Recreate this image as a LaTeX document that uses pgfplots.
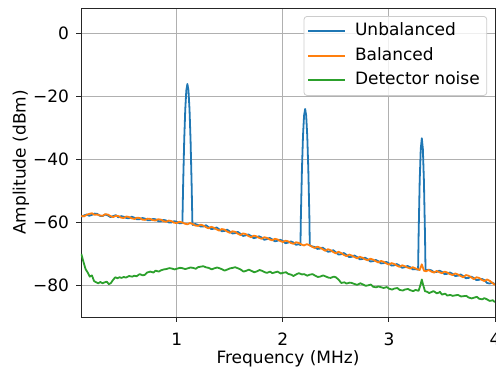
\documentclass[border=0pt]{standalone}
\usepackage{fontspec}
\setmainfont{DejaVu Sans}
\usepackage{pgfplots}
\pgfplotsset{compat=1.18}
\definecolor{C0}{HTML}{1F77B4}
\definecolor{C1}{HTML}{FF7F0E}
\definecolor{C2}{HTML}{2CA02C}
\definecolor{gridgray}{HTML}{B0B0B0}
\definecolor{leggray}{HTML}{CCCCCC}
\newcommand\fs{\fontsize{17}{20}\selectfont}
\begin{document}
\begin{tikzpicture}
\useasboundingbox (-81pt,-53pt) rectangle (415pt,317pt);
\begin{axis}[
  at={(0,0)}, anchor=south west,
  width=414pt, height=309pt, scale only axis,
  xmin=0.097, xmax=4, ymin=-90, ymax=8,
  xtick={1,2,3,4}, xticklabels={1,2,3,4},
  ytick={-80,-60,-40,-20,0}, yticklabels={−80,−60,−40,−20,0},
  tick pos=left,
  grid=major, major grid style={draw=gridgray, line width=0.9pt},
  axis line style={line width=0.9pt, draw=black!85},
  tick align=outside, major tick length=4.5pt,
  tick style={draw=black!85, line width=0.9pt},
  every tick label/.append style={font=\fs},
  xticklabel style={yshift=-8pt},
  yticklabel style={xshift=-4pt},
  label style={font=\fs},
  xlabel={Frequency (MHz)}, ylabel={Amplitude (dBm)},
  xlabel style={yshift=2pt},
  ylabel style={yshift=-3pt},
  legend cell align=left,
  legend style={at={(0.981,0.974)}, anchor=north east, draw=leggray, line width=0.8pt,
    rounded corners=3pt, fill=white, fill opacity=0.8, text opacity=1,
    font=\fs, inner xsep=3pt, inner ysep=3pt, row sep=0.5pt, column sep=5pt,
    nodes={inner sep=4pt, text height=12.5pt, text depth=3.5pt}},
  legend image code/.code={\draw[line width=2pt,#1] (0pt,0pt) -- (37pt,0pt);},
]
\addplot[C0, line width=1.8pt, line join=round] table {
0.10 -58.2
0.125 -57.8
0.15 -57.5
0.175 -57.9
0.20 -57.6
0.225 -57.2
0.25 -57.3
0.275 -57.9
0.30 -58.0
0.325 -57.5
0.35 -57.8
0.375 -58.3
0.40 -58.0
0.425 -57.7
0.45 -58.4
0.475 -58.0
0.50 -58.2
0.525 -58.6
0.55 -58.7
0.575 -58.2
0.60 -58.5
0.625 -59.0
0.65 -59.0
0.675 -58.6
0.70 -58.8
0.725 -59.3
0.75 -59.3
0.775 -58.9
0.80 -59.0
0.825 -59.6
0.85 -59.6
0.875 -59.2
0.90 -59.4
0.925 -60.0
0.95 -60.0
0.975 -59.6
1.00 -59.8
1.025 -60.3
1.05 -60.2
1.053 -60.0
1.06 -48.0
1.07 -34.0
1.08 -24.1
1.09 -18.1
1.10 -16.1
1.11 -18.1
1.12 -24.1
1.13 -34.0
1.14 -48.0
1.147 -59.8
1.15 -60.8
1.175 -60.5
1.20 -60.8
1.225 -61.3
1.25 -61.3
1.275 -60.9
1.30 -61.5
1.325 -62.1
1.35 -62.0
1.375 -61.6
1.40 -62.2
1.425 -62.8
1.45 -62.7
1.475 -62.3
1.50 -62.9
1.525 -63.5
1.55 -63.4
1.575 -63.0
1.60 -63.6
1.625 -64.3
1.65 -64.1
1.675 -63.8
1.70 -64.3
1.725 -65.0
1.75 -64.8
1.775 -64.4
1.80 -64.8
1.825 -65.5
1.85 -65.3
1.875 -64.9
1.90 -65.4
1.925 -66.0
1.95 -65.8
1.975 -65.5
2.00 -65.9
2.025 -66.6
2.05 -66.4
2.075 -66.0
2.10 -66.4
2.125 -67.1
2.15 -66.9
2.166 -67.2
2.17 -58.1
2.18 -43.2
2.19 -32.5
2.20 -26.1
2.21 -24.0
2.22 -26.1
2.23 -32.5
2.24 -43.2
2.25 -58.1
2.254 -67.3
2.275 -67.6
2.30 -67.8
2.325 -68.4
2.35 -68.3
2.375 -68.0
2.40 -68.6
2.425 -69.3
2.45 -69.2
2.475 -68.8
2.50 -69.5
2.525 -70.2
2.55 -70.1
2.575 -69.7
2.60 -70.3
2.625 -71.0
2.65 -70.9
2.675 -70.5
2.70 -71.0
2.725 -71.7
2.75 -71.6
2.775 -71.2
2.80 -71.7
2.825 -72.4
2.85 -72.3
2.875 -71.9
2.90 -72.3
2.925 -73.0
2.95 -72.9
2.975 -72.5
3.00 -73.0
3.025 -73.7
3.05 -73.6
3.075 -73.2
3.10 -73.7
3.125 -74.4
3.15 -74.2
3.175 -73.8
3.20 -74.2
3.225 -74.9
3.25 -74.8
3.275 -75.0
3.28 -63.9
3.29 -46.9
3.30 -36.7
3.31 -33.3
3.32 -36.7
3.33 -46.9
3.34 -63.9
3.345 -75.2
3.375 -75.0
3.40 -75.2
3.425 -75.8
3.45 -75.7
3.475 -75.3
3.50 -75.7
3.525 -76.4
3.55 -76.3
3.575 -75.9
3.60 -76.3
3.625 -77.0
3.65 -76.9
3.675 -76.5
3.70 -77.0
3.725 -77.7
3.75 -77.6
3.775 -77.2
3.80 -77.6
3.825 -78.3
3.85 -78.2
3.875 -77.9
3.90 -78.3
3.925 -79.2
3.95 -79.4
3.975 -79.1
4.00 -79.6
};
\addlegendentry{Unbalanced}
\addplot[C1, line width=1.8pt, line join=round] table {
0.10 -57.9
0.125 -58.1
0.15 -57.6
0.175 -57.3
0.20 -57.1
0.225 -57.6
0.25 -57.5
0.275 -57.8
0.30 -57.9
0.325 -57.4
0.35 -57.5
0.375 -58.0
0.40 -58.3
0.425 -57.9
0.45 -58.0
0.475 -58.5
0.50 -58.6
0.525 -58.1
0.55 -58.3
0.575 -58.7
0.60 -58.9
0.625 -58.5
0.65 -58.6
0.675 -59.1
0.70 -59.2
0.725 -58.8
0.75 -58.9
0.775 -59.3
0.80 -59.4
0.825 -59.0
0.85 -59.1
0.875 -59.6
0.90 -59.8
0.925 -59.4
0.95 -59.6
0.975 -60.1
1.00 -60.2
1.025 -59.8
1.05 -60.0
1.075 -60.4
1.10 -60.6
1.125 -60.2
1.15 -60.5
1.175 -61.0
1.20 -61.1
1.225 -60.7
1.25 -61.0
1.275 -61.5
1.30 -61.9
1.325 -61.4
1.35 -61.7
1.375 -62.2
1.40 -62.6
1.425 -62.1
1.45 -62.3
1.475 -62.9
1.50 -63.3
1.525 -62.8
1.55 -63.0
1.575 -63.6
1.60 -64.0
1.625 -63.5
1.65 -63.7
1.675 -64.3
1.70 -64.7
1.725 -64.2
1.75 -64.4
1.775 -64.9
1.80 -65.2
1.825 -64.7
1.85 -64.9
1.875 -65.4
1.90 -65.7
1.925 -65.2
1.95 -65.4
1.975 -65.9
2.00 -66.2
2.025 -65.8
2.05 -66.0
2.075 -66.5
2.10 -66.8
2.125 -66.3
2.15 -66.5
2.175 -67.0
2.20 -67.3
2.225 -66.9
2.25 -67.2
2.275 -67.7
2.30 -68.1
2.325 -67.7
2.35 -68.0
2.375 -68.5
2.40 -69.0
2.425 -68.5
2.45 -68.8
2.475 -69.4
2.50 -69.8
2.525 -69.3
2.55 -69.7
2.575 -70.3
2.60 -70.7
2.625 -70.2
2.65 -70.5
2.675 -71.0
2.70 -71.4
2.725 -70.9
2.75 -71.2
2.775 -71.7
2.80 -72.0
2.825 -71.5
2.85 -71.8
2.875 -72.3
2.90 -72.7
2.925 -72.2
2.95 -72.5
2.975 -73.0
3.00 -73.4
3.025 -72.9
3.05 -73.2
3.075 -73.7
3.10 -74.1
3.125 -73.6
3.15 -73.9
3.175 -74.3
3.20 -74.6
3.225 -74.2
3.25 -74.6
3.275 -74.9
3.29 -75.1
3.31 -73.3
3.33 -75.3
3.35 -75.5
3.375 -75.1
3.40 -75.6
3.425 -75.9
3.45 -75.4
3.475 -75.8
3.50 -76.1
3.525 -75.6
3.55 -75.9
3.575 -76.4
3.60 -76.7
3.625 -76.2
3.65 -76.5
3.675 -77.0
3.70 -77.4
3.725 -76.7
3.75 -76.9
3.775 -77.4
3.80 -78.0
3.825 -77.4
3.85 -77.6
3.875 -78.2
3.90 -78.6
3.925 -78.1
3.95 -78.5
3.975 -79.2
4.00 -79.8
};
\addlegendentry{Balanced}
\addplot[C2, line width=1.8pt, line join=round] table {
0.10 -70.0
0.12 -72.5
0.14 -74.8
0.16 -75.9
0.18 -77.2
0.20 -76.8
0.22 -78.6
0.24 -79.0
0.26 -79.3
0.28 -78.9
0.30 -79.3
0.32 -79.0
0.34 -78.8
0.36 -79.6
0.38 -79.2
0.40 -78.2
0.42 -77.4
0.44 -77.7
0.46 -77.4
0.48 -77.6
0.50 -77.3
0.52 -77.5
0.55 -77.0
0.58 -77.2
0.60 -76.9
0.62 -77.1
0.65 -76.4
0.68 -76.8
0.70 -76.6
0.72 -75.9
0.75 -75.6
0.78 -75.9
0.80 -75.3
0.83 -75.6
0.85 -75.2
0.88 -74.9
0.90 -74.8
0.93 -74.5
0.95 -74.6
0.98 -74.9
1.00 -74.7
1.03 -74.4
1.05 -74.5
1.08 -74.8
1.10 -74.6
1.13 -74.3
1.15 -74.4
1.18 -74.7
1.20 -74.2
1.23 -74.0
1.25 -73.9
1.28 -74.3
1.30 -74.4
1.33 -74.9
1.35 -74.6
1.38 -74.3
1.40 -74.5
1.43 -74.9
1.45 -75.3
1.48 -74.9
1.50 -74.6
1.53 -74.4
1.55 -74.2
1.58 -74.6
1.60 -74.9
1.63 -75.6
1.65 -75.4
1.68 -75.0
1.70 -75.3
1.73 -75.8
1.75 -75.6
1.78 -75.1
1.80 -75.3
1.83 -75.8
1.85 -76.0
1.88 -75.6
1.90 -76.1
1.93 -75.8
1.95 -75.6
1.98 -76.2
2.00 -76.0
2.03 -75.8
2.05 -76.3
2.08 -76.6
2.10 -77.0
2.13 -76.4
2.15 -76.1
2.18 -76.5
2.20 -76.4
2.23 -76.9
2.25 -76.6
2.28 -76.4
2.30 -76.8
2.33 -77.3
2.35 -77.2
2.38 -76.8
2.40 -77.1
2.43 -77.5
2.45 -77.6
2.48 -77.2
2.50 -77.4
2.53 -78.3
2.55 -79.2
2.58 -79.0
2.60 -79.4
2.63 -79.1
2.65 -79.2
2.68 -79.6
2.70 -79.8
2.73 -79.3
2.75 -79.6
2.78 -80.1
2.80 -80.0
2.83 -79.7
2.85 -80.4
2.88 -80.6
2.90 -80.3
2.93 -80.6
2.95 -80.8
2.98 -80.5
3.00 -81.0
3.03 -81.3
3.05 -81.0
3.08 -80.8
3.10 -81.4
3.13 -81.6
3.15 -81.3
3.18 -81.1
3.20 -81.5
3.23 -81.8
3.25 -81.4
3.28 -81.7
3.30 -79.5
3.31 -78.1
3.32 -79.5
3.34 -81.8
3.36 -82.0
3.38 -82.4
3.40 -82.1
3.42 -81.8
3.44 -82.2
3.45 -82.5
3.47 -82.3
3.48 -82.0
3.50 -82.9
3.53 -82.6
3.55 -83.2
3.58 -83.0
3.60 -83.3
3.63 -83.1
3.65 -83.0
3.68 -83.5
3.70 -83.4
3.73 -83.3
3.75 -83.8
3.78 -84.1
3.80 -83.9
3.83 -83.6
3.85 -84.2
3.88 -84.4
3.90 -84.0
3.93 -84.5
3.95 -84.9
3.98 -84.7
4.00 -85.3
};
\addlegendentry{Detector noise}
\end{axis}
\end{tikzpicture}
\end{document}
